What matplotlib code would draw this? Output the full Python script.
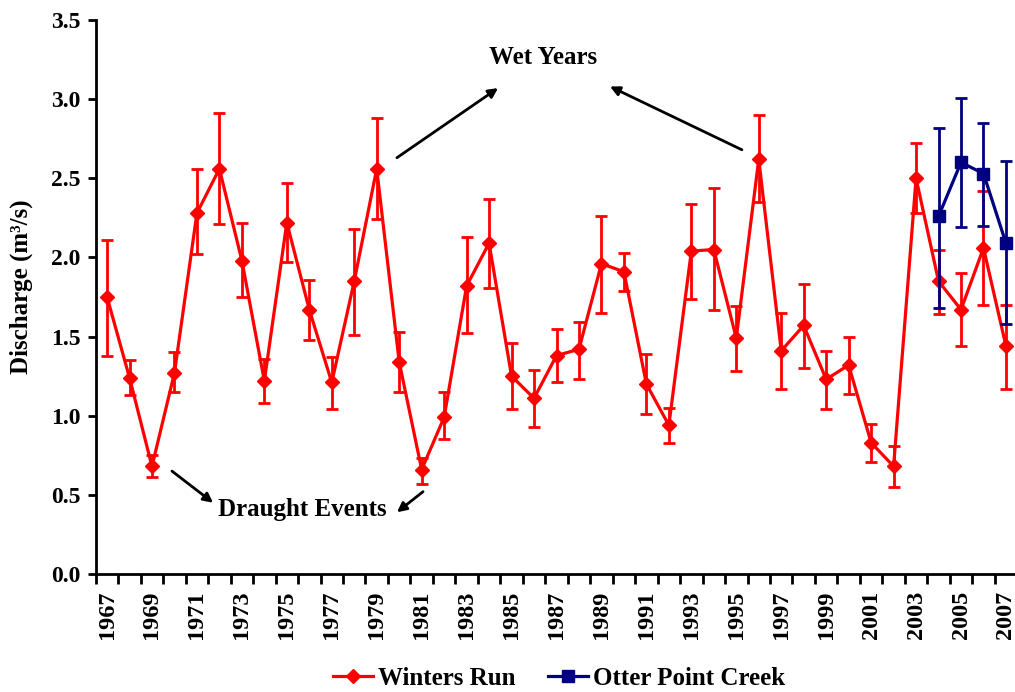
import numpy as np
import matplotlib
matplotlib.use('Agg')
import matplotlib.pyplot as plt

# Datos (caudal medio anual y barras de error)
years = list(range(1967, 2008))
wr_mean = [1.75, 1.24, 0.68, 1.27, 2.28, 2.56, 1.98, 1.22, 2.22, 1.67,
           1.21, 1.85, 2.56, 1.34, 0.66, 0.99, 1.82, 2.09, 1.25, 1.11,
           1.38, 1.42, 1.96, 1.91, 1.20, 0.94, 2.04, 2.05, 1.49, 2.62,
           1.41, 1.57, 1.23, 1.32, 0.83, 0.68, 2.50, 1.85, 1.67, 2.06, 1.44]
wr_low = [1.38, 1.13, 0.61, 1.15, 2.02, 2.21, 1.75, 1.08, 1.97, 1.48,
          1.04, 1.51, 2.24, 1.15, 0.57, 0.85, 1.52, 1.81, 1.04, 0.93,
          1.21, 1.23, 1.65, 1.79, 1.01, 0.83, 1.74, 1.67, 1.28, 2.35,
          1.17, 1.30, 1.04, 1.14, 0.71, 0.55, 2.28, 1.64, 1.44, 1.70, 1.17]
wr_high = [2.11, 1.35, 0.75, 1.40, 2.56, 2.91, 2.22, 1.36, 2.47, 1.86,
           1.37, 2.18, 2.88, 1.53, 0.73, 1.15, 2.13, 2.37, 1.46, 1.29,
           1.55, 1.59, 2.26, 2.03, 1.39, 1.05, 2.34, 2.44, 1.69, 2.90,
           1.65, 1.83, 1.41, 1.50, 0.95, 0.81, 2.72, 2.05, 1.90, 2.42, 1.70]

opc_years = [2004, 2005, 2006, 2007]
opc_mean = [2.26, 2.60, 2.53, 2.09]
opc_low = [1.68, 2.19, 2.20, 1.58]
opc_high = [2.82, 3.01, 2.85, 2.61]

plt.rcParams['font.family'] = ['Liberation Serif', 'DejaVu Serif']
plt.rcParams['font.weight'] = 'bold'
plt.rcParams['axes.labelweight'] = 'bold'

RED = '#FF0000'
NAVY = '#000080'

fig = plt.figure(figsize=(10.15, 6.92), dpi=100)
ax = fig.add_axes([95.8 / 1015, 1 - 574 / 692, 921.4 / 1015, 554 / 692])

x = np.arange(len(years))
xo = np.array([years.index(y) for y in opc_years])
wr_mean = np.array(wr_mean)
opc_mean = np.array(opc_mean)

# Winters Run
ax.errorbar(x, wr_mean, yerr=[wr_mean - np.array(wr_low), np.array(wr_high) - wr_mean],
            fmt='none', ecolor=RED, elinewidth=2, capsize=4, capthick=2, zorder=2)
ax.plot(x, wr_mean, color=RED, lw=2.3, marker='D', markersize=7.5, label='Winters Run', zorder=3)

# Otter Point Creek
ax.errorbar(xo, opc_mean, yerr=[opc_mean - np.array(opc_low), np.array(opc_high) - opc_mean],
            fmt='none', ecolor=NAVY, elinewidth=2, capsize=4, capthick=2, zorder=4)
ax.plot(xo, opc_mean, color=NAVY, lw=2.3, marker='s', markersize=8, label='Otter Point Creek', zorder=5)

ax.set_xlim(-0.5, len(years) - 0.5)
ax.set_ylim(0, 3.5)
ax.set_yticks(np.arange(0, 3.51, 0.5))
ax.set_yticklabels([f'{v:.1f}' for v in np.arange(0, 3.51, 0.5)], fontsize=17)

# ticks en los límites de categoría, etiquetas cada 2 años
ax.set_xticks(np.arange(-0.5, len(years), 1))
ax.set_xticklabels([])
ax.set_xticks(x[::2], minor=True)
ax.set_xticklabels([str(y) for y in years[::2]], minor=True, rotation=90, fontsize=17.5)
ax.tick_params(axis='x', which='minor', length=0, pad=12)
ax.tick_params(axis='x', which='major', length=7, width=2)
ax.tick_params(axis='y', length=6, width=2, pad=5)

for s in ['top', 'right']:
    ax.spines[s].set_visible(False)
for s in ['left', 'bottom']:
    ax.spines[s].set_linewidth(2)

ax.set_ylabel('Discharge (m³/s)', fontsize=18)
ax.yaxis.set_label_coords(-0.068, 0.518)

# Anotaciones
arrow = dict(arrowstyle='-|>', color='black', lw=2, mutation_scale=14, shrinkA=0, shrinkB=0)
ax.text(19.4, 3.26, 'Wet Years', fontsize=18, ha='center', va='center')
ax.annotate('', xy=(17.4, 3.07), xytext=(12.9, 2.63), arrowprops=arrow)
ax.annotate('', xy=(22.38, 3.08), xytext=(28.25, 2.68), arrowprops=arrow)
ax.text(8.68, 0.41, 'Draught Events', fontsize=18, ha='center', va='center')
ax.annotate('', xy=(4.72, 0.45), xytext=(2.89, 0.65), arrowprops=arrow)
ax.annotate('', xy=(12.9, 0.39), xytext=(14.06, 0.52), arrowprops=arrow)

fig.legend(loc='center', bbox_to_anchor=(0.551, 0.02), ncol=2, frameon=False,
           fontsize=18, handlelength=1.6, handletextpad=0.2, columnspacing=1.3)

fig.savefig('out.png', dpi=100)
